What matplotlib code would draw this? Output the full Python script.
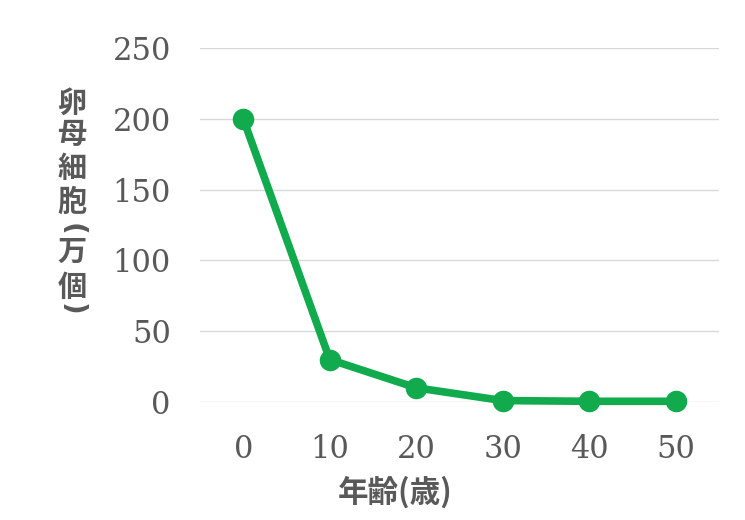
import matplotlib
matplotlib.use("Agg")
import matplotlib.pyplot as plt

ages = ["0", "10", "20", "30", "40", "50"]
oocytes = [200, 30, 10, 1, 0.5, 0.5]
yticks = [0, 50, 100, 150, 200, 250]
xlabel = "年齢(歳)"
ylabel_chars = ["卵", "母", "細", "胞", "(", "万", "個", ")"]

green = "#11AB4E"
gray = "#595959"
cjk = ["Noto Sans CJK JP", "DejaVu Sans"]
serif = ["DejaVu Serif"]

fig = plt.figure(figsize=(7.45, 5.2), dpi=100)
ax = fig.add_axes([200/745, 1-402/520, (719-200)/745, (402-48)/520])

x = list(range(len(ages)))
ax.plot(x, oocytes, color=green, lw=5.5, marker="o", ms=14.5,
        markerfacecolor=green, markeredgecolor=green, solid_capstyle="round", zorder=3, clip_on=False)

ax.set_xlim(-0.5, len(ages) - 0.5)
ax.set_ylim(0, 250)
ax.set_yticks(yticks)
ax.set_yticklabels([str(v) for v in yticks])
ax.set_xticks(x)
ax.set_xticklabels(ages)
ax.grid(axis="y", color="#D9D9D9", lw=1)
ax.set_axisbelow(True)
for s in ax.spines.values():
    s.set_visible(False)
ax.tick_params(length=0, colors=gray, labelsize=22)
ax.tick_params(axis="x", pad=23)
ax.tick_params(axis="y", pad=21)
for lab in ax.get_xticklabels() + ax.get_yticklabels():
    lab.set_fontfamily(serif)
    lab.set_fontweight("light")

fig.text(395/745, 1-492/520, xlabel, ha="center", va="center", fontsize=22,
         fontweight="bold", color=gray, family=cjk)

centers = [103, 134, 168, 202, 229, 252, 287, 309]
for ch, cy in zip(ylabel_chars, centers):
    if ch in "()":
        fig.text(72/745, 1-cy/520, ch, ha="center", va="center", fontsize=20,
                 fontweight="bold", color=gray, family=["DejaVu Sans"], rotation=-90,
                 rotation_mode="anchor")
    else:
        fig.text(72/745, 1-cy/520, ch, ha="center", va="center", fontsize=21,
                 fontweight="bold", color=gray, family=cjk)

fig.savefig("out.png", dpi=100)
